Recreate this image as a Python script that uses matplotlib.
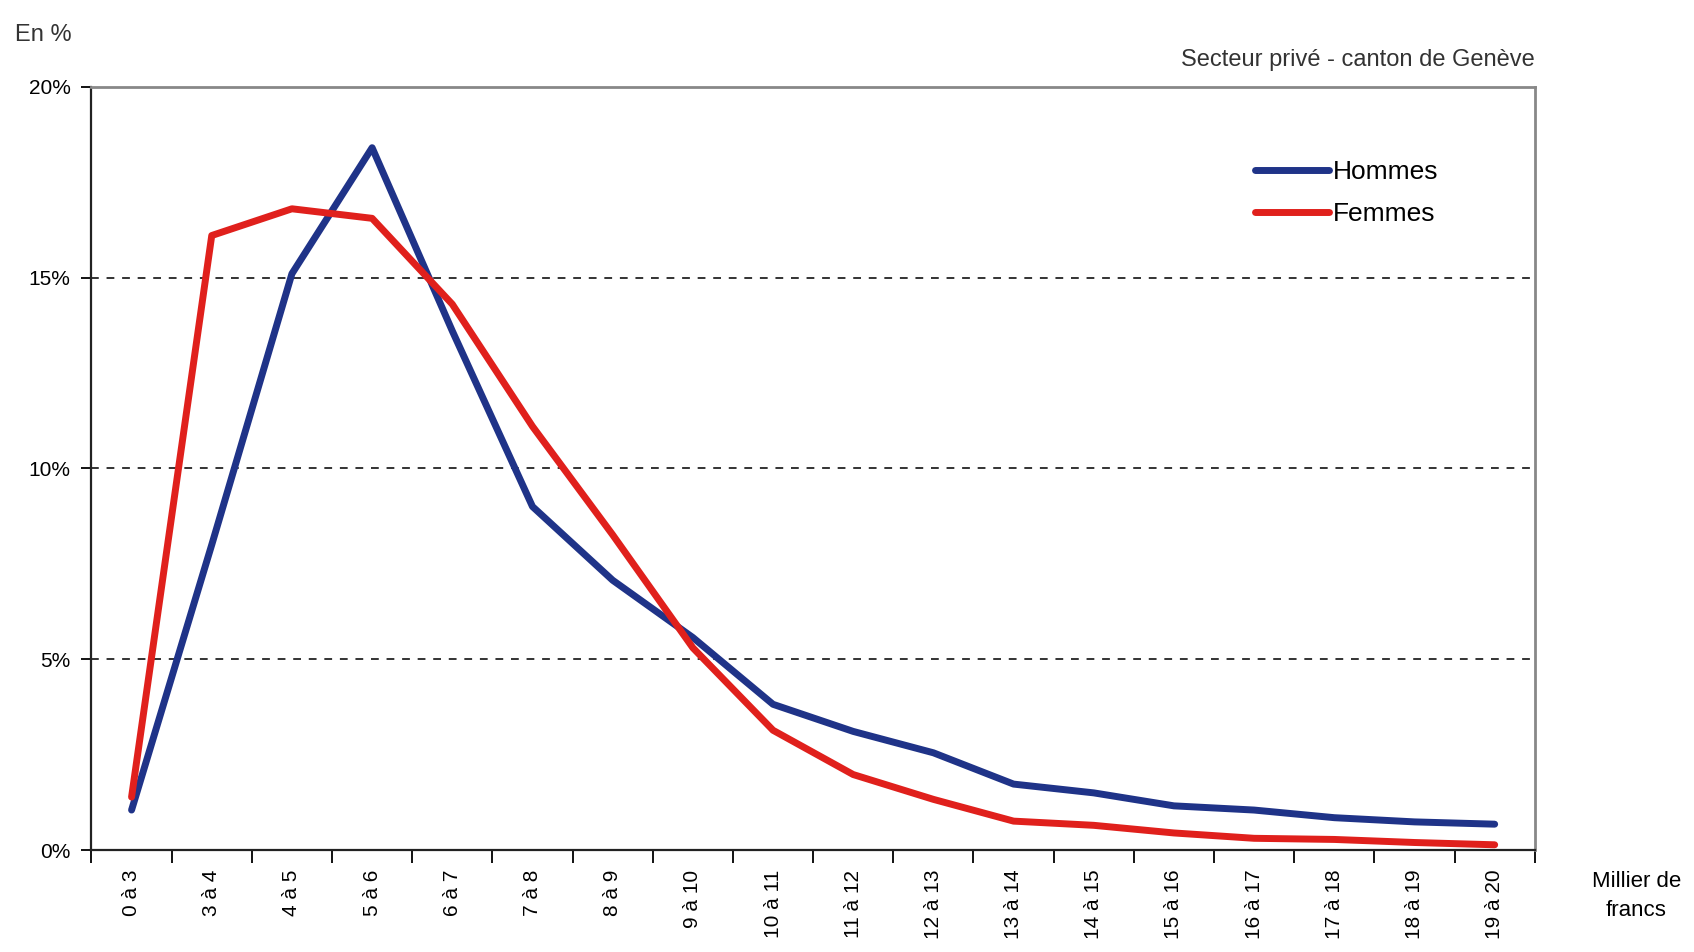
import numpy as np
import matplotlib.pyplot as plt

categories = ["0 à 3", "3 à 4", "4 à 5", "5 à 6", "6 à 7", "7 à 8", "8 à 9",
              "9 à 10", "10 à 11", "11 à 12", "12 à 13", "13 à 14", "14 à 15",
              "15 à 16", "16 à 17", "17 à 18", "18 à 19", "19 à 20"]

hommes = [1.05, 8.0, 15.1, 18.4, 13.6, 9.0, 7.07, 5.57, 3.82, 3.11, 2.55,
          1.73, 1.5, 1.16, 1.05, 0.85, 0.74, 0.68]
femmes = [1.39, 16.1, 16.8, 16.55, 14.3, 11.1, 8.26, 5.3, 3.14, 1.98, 1.33,
          0.76, 0.65, 0.45, 0.31, 0.28, 0.2, 0.14]

yticks = [0, 5, 10, 15, 20]

plt.rcParams['font.family'] = ['Liberation Sans', 'DejaVu Sans']

fig = plt.figure(figsize=(16.94, 9.52), dpi=100)
ax = fig.add_axes([0.054, 0.107, 0.852, 0.802])

x = np.arange(len(categories))
ax.plot(x, hommes, color='#1f3388', lw=5, label='Hommes', solid_capstyle='round')
ax.plot(x, femmes, color='#e0201c', lw=5, label='Femmes', solid_capstyle='round')

ax.set_xlim(-0.5, len(categories) - 0.5)
ax.set_ylim(0, 20)

ax.set_yticks(yticks)
ax.set_yticklabels([f"{v}%" for v in yticks], fontsize=15)
for v in yticks[1:-1]:
    ax.axhline(v, color='#333333', lw=1.4, ls=(0, (4, 4)), zorder=0)

ax.set_xticks(x)
ax.set_xticklabels(categories, rotation=90, fontsize=15, va='top')
ax.set_xticks(np.arange(-0.5, len(categories), 1), minor=True)
ax.tick_params(axis='x', which='major', length=0, pad=14)
ax.tick_params(axis='x', which='minor', length=9, width=1.3, direction='out')
ax.tick_params(axis='y', length=7, width=1.3, direction='out', pad=8)

for s in ['left', 'bottom']:
    ax.spines[s].set_color('#222222')
    ax.spines[s].set_linewidth(1.6)
for s in ['top', 'right']:
    ax.spines[s].set_color('#888888')
    ax.spines[s].set_linewidth(2)

leg = ax.legend(loc='upper left', bbox_to_anchor=(0.79, 0.935), frameon=False,
                fontsize=19, handlelength=2.8, handletextpad=0.15, labelspacing=0.7)

fig.text(0.009, 0.975, "En %", fontsize=17, color='#333333', va='top')
fig.text(0.906, 0.925, "Secteur privé - canton de Genève", fontsize=17,
         color='#333333', ha='right', va='bottom')
fig.text(0.966, 0.085, "Millier de\nfrancs", fontsize=16, ha='center', va='top',
         linespacing=1.5)

fig.savefig("out.png", dpi=100)
